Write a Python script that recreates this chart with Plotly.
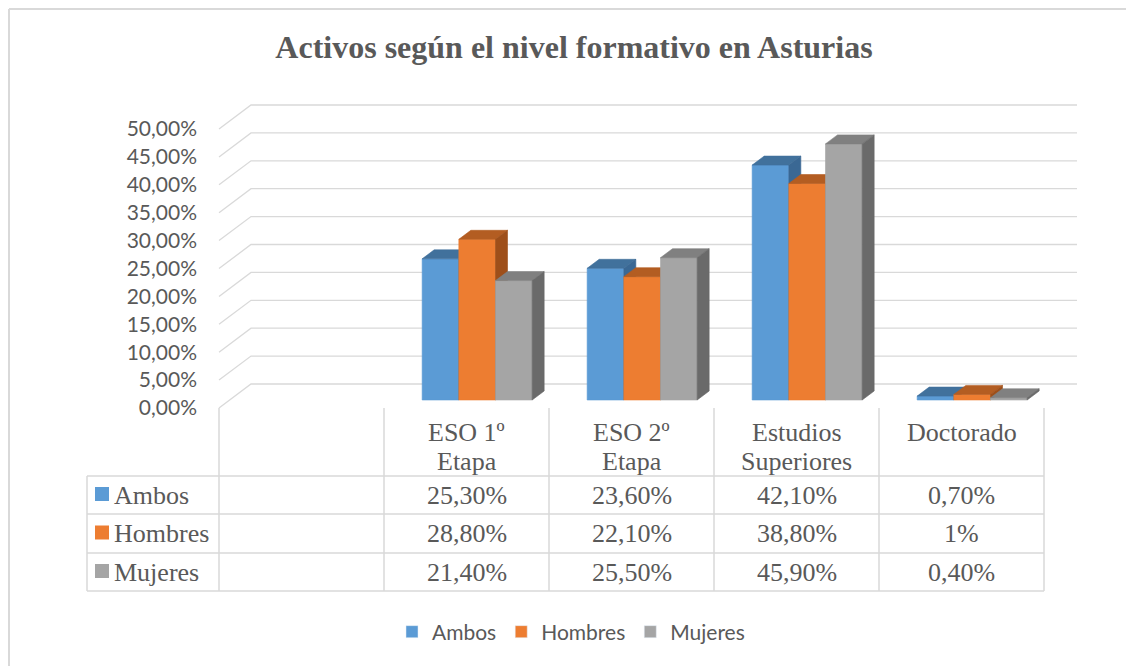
import plotly.graph_objects as go

categories = ["", "ESO 1º<br>Etapa", "ESO 2º<br>Etapa", "Estudios<br>Superiores", "Doctorado"]
series = ["Ambos", "Hombres", "Mujeres"]
ambos = [None, 25.3, 23.6, 42.1, 0.7]
hombres = [None, 28.8, 22.1, 38.8, 1.0]
mujeres = [None, 21.4, 25.5, 45.9, 0.4]
y_ticks = [0, 5, 10, 15, 20, 25, 30, 35, 40, 45, 50]

front_colors = ["#5B9BD5", "#ED7D31", "#A5A5A5"]
top_colors = ["#41719C", "#B35D22", "#808080"]
side_colors = ["#3A6894", "#9E4F1A", "#6A6A6A"]
grid_color = "#D9D9D9"
text_color = "#595959"

# page geometry in page pixels; the page body has an 8 px margin
W, H, OFF = 1134, 666, 8
L, R, T, B = 214, 1077, 95, 412
X0, UX = 219, 165.0      # pixel of x=0, pixels per category
Y0, UY = 408, 5.58       # pixel of 0 %, pixels per 1 %
xmin, xmax = (L - X0) / UX, (R - X0) / UX
ymin, ymax = (Y0 - B) / UY, (Y0 - T) / UY
DX, DY = 32 / UX, 24 / UY   # full depth offset of the 3D box

def px(p):
    return (p - L) / (R - L)

def py(p):
    return (B - p) / (B - T)

def pct(v):
    if v == int(v):
        return f"{int(v)}%"
    return f"{v:.2f}".replace(".", ",") + "%"

fig = go.Figure()

# back wall gridlines with diagonals to the front axis
gx, gy = [], []
for t in y_ticks:
    gx += [0, DX, xmax, None]
    gy += [t, t + DY, t + DY, None]
fig.add_trace(go.Scatter(x=gx, y=gy, mode="lines", line=dict(color=grid_color, width=1.3),
                         hoverinfo="skip", showlegend=False))

# 3D columns: front, top and side faces, drawn left to right
D0, DEPTH, BW = 1 / 3, 0.375, 2 / 9
b0 = D0 * DY
ox, oy = DEPTH * DX, DEPTH * DY
for s, vals in enumerate([ambos, hombres, mujeres]):
    fx, fy, tx, ty, sx, sy = [], [], [], [], [], []
    for i, v in enumerate(vals):
        if v is None:
            continue
        xl = i + 0.5 - 1.5 * BW + D0 * DX + s * BW
        xr = xl + BW
        top = b0 + v
        fx += [xl, xr, xr, xl, xl, None]
        fy += [b0, b0, top, top, b0, None]
        tx += [xl, xr, xr + ox, xl + ox, xl, None]
        ty += [top, top, top + oy, top + oy, top, None]
        sx += [xr, xr + ox, xr + ox, xr, xr, None]
        sy += [b0, b0 + oy, top + oy, top, b0, None]
    for xs, ys, col in [(fx, fy, front_colors[s]), (tx, ty, top_colors[s]), (sx, sy, side_colors[s])]:
        fig.add_trace(go.Scatter(x=xs, y=ys, mode="lines", fill="toself", fillcolor=col,
                                 line=dict(color=col, width=0.6), hoverinfo="skip", showlegend=False))

# legend entries
for s, name in enumerate(series):
    fig.add_trace(go.Bar(x=[None], y=[None], name=name, marker_color=front_colors[s]))

shapes = []
line = dict(color=grid_color, width=1.5)
# chart border (top and left)
shapes.append(dict(type="line", xref="paper", yref="paper", x0=px(9), x1=px(W), y0=py(9), y1=py(9),
                   line=dict(color=grid_color, width=2)))
shapes.append(dict(type="line", xref="paper", yref="paper", x0=px(9), x1=px(9), y0=py(9), y1=py(H),
                   line=dict(color=grid_color, width=2)))

# data table
col_px = [X0 + UX * i for i in range(len(categories) + 1)]
row_px = [476, 514, 553, 591]
tbl_left = 87
shapes.append(dict(type="line", xref="paper", yref="paper", x0=px(tbl_left), x1=px(tbl_left),
                   y0=py(row_px[0]), y1=py(row_px[-1]), line=line))
for c in col_px:
    shapes.append(dict(type="line", xref="paper", yref="paper", x0=px(c), x1=px(c),
                       y0=py(Y0), y1=py(row_px[-1]), line=line))
for r in row_px:
    shapes.append(dict(type="line", xref="paper", yref="paper", x0=px(tbl_left), x1=px(col_px[-1]),
                       y0=py(r), y1=py(r), line=line))

annotations = []
serif = dict(family="Liberation Serif", size=26, color=text_color)
for i, c in enumerate(categories):
    for k, part in enumerate(c.split("<br>") if c else []):
        annotations.append(dict(x=i + 0.5, xref="x", xanchor="center", y=py(432 + 30 * k), yref="paper",
                                yanchor="middle", text=part, showarrow=False, font=serif))
for s, vals in enumerate([ambos, hombres, mujeres]):
    yc = (row_px[s] + row_px[s + 1]) / 2
    shapes.append(dict(type="rect", xref="paper", yref="paper", x0=px(95), x1=px(109),
                       y0=py(yc + 6), y1=py(yc - 8), fillcolor=front_colors[s], line=dict(width=0)))
    annotations.append(dict(x=px(112), xref="paper", xanchor="left", y=py(yc), yref="paper",
                            yanchor="middle", text=series[s], showarrow=False, font=serif))
    for i, v in enumerate(vals):
        if v is None:
            continue
        annotations.append(dict(x=i + 0.5, xref="x", xanchor="center", y=py(yc), yref="paper",
                                yanchor="middle", text=pct(v), showarrow=False, font=serif))

fig.update_layout(
    width=W - OFF, height=H - OFF,
    margin=dict(l=L - OFF, r=W - R, t=T - OFF, b=H - B),
    paper_bgcolor="white", plot_bgcolor="white",
    title=dict(text="<b>Activos según el nivel formativo en Asturias</b>", xref="container",
               x=(574 - OFF) / (W - OFF), xanchor="center", yref="container",
               y=1 - (47 - OFF) / (H - OFF), yanchor="middle",
               font=dict(family="Liberation Serif", size=32, color=text_color)),
    xaxis=dict(type="linear", range=[xmin, xmax], showgrid=False, zeroline=False,
               showticklabels=False, showline=False, fixedrange=True),
    yaxis=dict(range=[ymin, ymax], tickmode="array", tickvals=y_ticks,
               ticktext=[f"{t:.2f}".replace(".", ",") + "%" for t in y_ticks],
               showgrid=False, zeroline=False, showline=False, ticks="", ticklabelstandoff=16,
               tickfont=dict(family="Lato", size=21, color=text_color), fixedrange=True),
    showlegend=True,
    legend=dict(orientation="h", xref="container", x=(571 - OFF) / (W - OFF), xanchor="center",
                yref="container", y=1 - (632 - OFF) / (H - OFF), yanchor="middle", itemwidth=30,
                font=dict(family="Lato", size=21, color=text_color)),
    shapes=shapes, annotations=annotations,
    hovermode=False,
)

fig.write_html("out.html")
